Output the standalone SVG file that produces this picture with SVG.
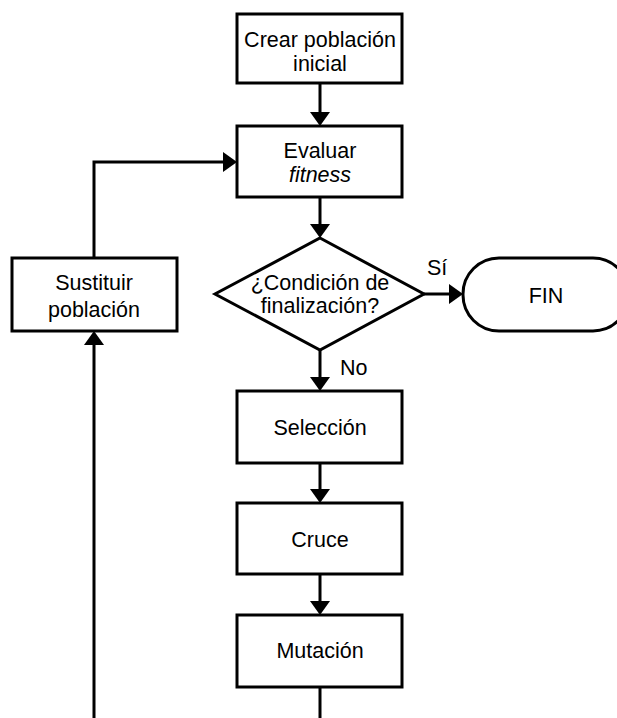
<svg xmlns="http://www.w3.org/2000/svg" width="617" height="718" viewBox="0 0 617 718">
<style>
.box{fill:#fff;stroke:#000;stroke-width:3}
.t{font-family:"Liberation Sans",Arial,sans-serif;font-size:21.5px;fill:#000;text-anchor:middle}
.l{font-family:"Liberation Sans",Arial,sans-serif;font-size:21.5px;fill:#000}
.c{fill:none;stroke:#000;stroke-width:3}
</style>
<defs>
<marker id="ah" markerUnits="userSpaceOnUse" markerWidth="14" markerHeight="20" refX="4" refY="10" orient="auto" overflow="visible">
<path d="M0,0 L14,10 L0,20 z" fill="#000"/>
</marker>
</defs>
<rect width="617" height="718" fill="#fff"/>
<g id="connectors">
<path class="c" d="M320,83 V116" marker-end="url(#ah)"/>
<path class="c" d="M320,197 V228" marker-end="url(#ah)"/>
<path class="c" d="M424,294 H453" marker-end="url(#ah)"/>
<path class="c" d="M320,350 V381" marker-end="url(#ah)"/>
<path class="c" d="M320,463 V493" marker-end="url(#ah)"/>
<path class="c" d="M320,574 V605" marker-end="url(#ah)"/>
<path class="c" d="M320,687 V718"/>
<path class="c" d="M94,718 V341" marker-end="url(#ah)"/>
<path class="c" d="M94,258 V162 H227" marker-end="url(#ah)"/>
<text class="l" x="427" y="275">Sí</text>
<text class="l" x="340" y="375">No</text>
</g>
<g id="crear">
<rect class="box" x="237" y="14" width="165" height="69"/>
<text class="t" x="320" y="47">Crear población</text>
<text class="t" x="320" y="71">inicial</text>
</g>
<g id="evaluar">
<rect class="box" x="237" y="126" width="165" height="71"/>
<text class="t" x="320" y="158">Evaluar</text>
<text class="t" x="320" y="182" font-style="italic">fitness</text>
</g>
<g id="condicion">
<polygon class="box" points="320,238 424,294 320,350 215,294"/>
<text class="t" x="320" y="290">¿Condición de</text>
<text class="t" x="320" y="313">finalización?</text>
</g>
<g id="fin">
<rect class="box" x="463" y="258" width="166" height="73" rx="36" ry="36"/>
<text class="t" x="546" y="303">FIN</text>
</g>
<g id="sustituir">
<rect class="box" x="12" y="258" width="165" height="73"/>
<text class="t" x="94" y="290">Sustituir</text>
<text class="t" x="94" y="317">población</text>
</g>
<g id="seleccion">
<rect class="box" x="237" y="391" width="165" height="72"/>
<text class="t" x="320" y="435">Selección</text>
</g>
<g id="cruce">
<rect class="box" x="237" y="503" width="165" height="71"/>
<text class="t" x="320" y="547">Cruce</text>
</g>
<g id="mutacion">
<rect class="box" x="237" y="615" width="165" height="72"/>
<text class="t" x="320" y="658">Mutación</text>
</g>
</svg>
